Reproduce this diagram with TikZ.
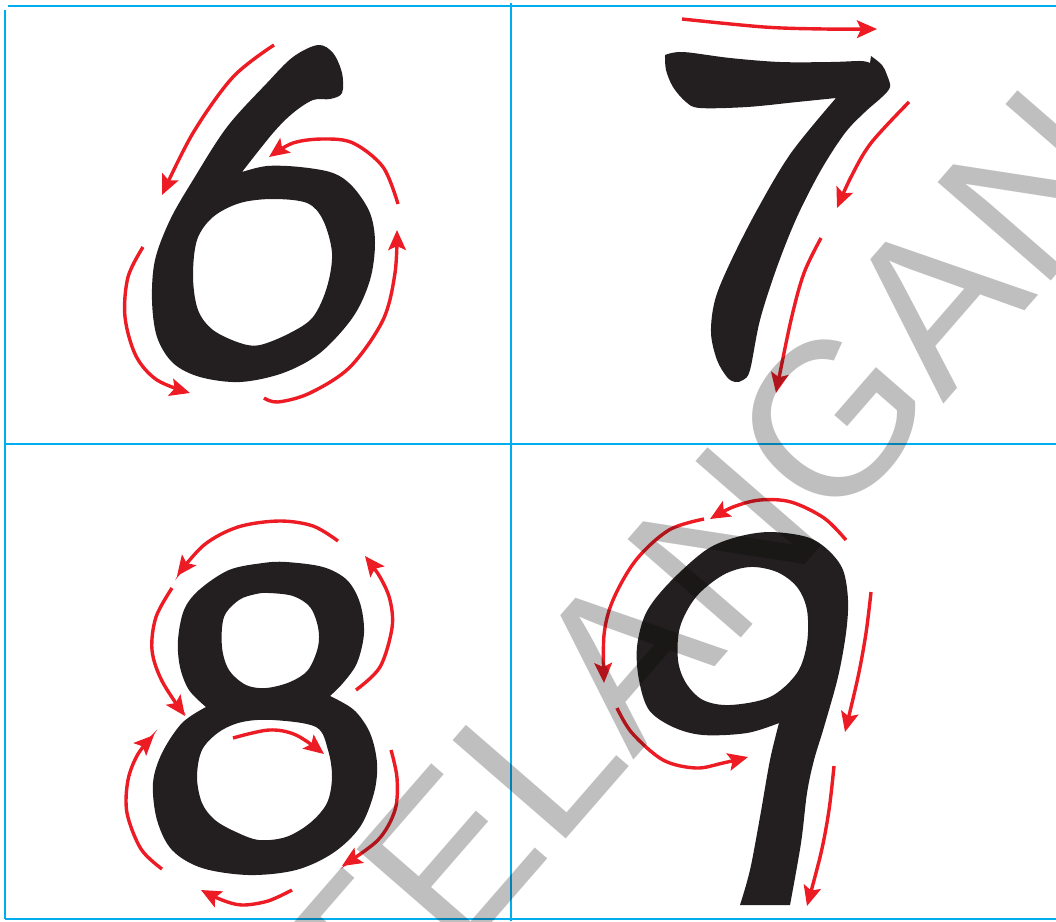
\documentclass[tikz,border=0pt]{standalone}
\usepackage{fontspec}
\newfontfamily\markfont{Liberation Sans}
\usetikzlibrary{arrows.meta}
\definecolor{digitink}{HTML}{231F20}
\definecolor{tracered}{HTML}{ED1C24}
\definecolor{gridcyan}{HTML}{00AEEF}
\begin{document}
\begin{tikzpicture}[
        x=0.025cm, y=-0.025cm,
        digit/.style={fill=digitink, even odd rule},
        trace/.style={
          draw=tracered,
          line width=0.085cm,
          -{Stealth[length=0.5cm, width=0.44cm, inset=0.1cm]}
        },
        gridline/.style={draw=gridcyan, line width=0.05cm},
        watermark/.style={
          inner sep=0pt,
          text=black,
          text opacity=0.25,
          font=\markfont\fontsize{155}{160}\selectfont
        }
      ]
      \useasboundingbox (0,0) rectangle (1056,921);
      \clip (0,0) rectangle (1056,921);

      % cells
      \draw[gridline] (8,6) -- (1056,6);
      \draw[gridline] (5,444) -- (1056,444);
      \draw[gridline] (5,919) -- (1056,919);
      \draw[gridline] (5,10) -- (5,919);
      \draw[gridline] (511,3) -- (511,921);

      % six
      \fill[digit] plot[smooth, tension=0.55] coordinates {(242,172) (267,166)
          (300,167) (333,173) (353,187) (370,213) (375,243) (370,280)
          (353,317) (320,353) (283,373) (240,382) (200,377) (173,363)
          (157,337) (152,300) (155,260) (170,220) (193,180) (227,127)
          (267,83) (293,57) (318,45) (333,53) (342,73) (342,93) (330,99)
          (313,100) (293,113) (273,133) (242,172)} -- cycle
        plot[smooth cycle, tension=0.55] coordinates {(273,199) (307,203)
          (323,220) (332,253) (327,287) (313,317) (290,333) (260,345)
          (240,343) (213,330) (198,310) (193,277) (197,240) (213,217)
          (240,203)};
      \draw[trace] plot[smooth, tension=0.55] coordinates {(274,45) (233,77)
          (193,133) (162,195)};
      \draw[trace] plot[smooth, tension=0.55] coordinates {(398,204) (383,167)
          (353,143) (323,139) (293,143) (269,157)};
      \draw[trace] plot[smooth, tension=0.55] coordinates {(143,247) (128,277)
          (125,317) (136,356) (157,380) (190,393)};
      \draw[trace] plot[smooth, tension=0.55] coordinates {(264,398) (278,402)
          (310,393) (350,367) (383,320) (395,273) (397,230)};

      % seven
      \fill[digit] plot[smooth, tension=0.55] coordinates {(665,55) (683,52)
          (730,58) (780,62) (831,62) (861,61) (870,63)} -- (871,56)
        -- plot[smooth, tension=0.55] coordinates {(871,56) (882,65) (887,75)
          (890,87) (882,97) (865,112) (845,133) (821,170) (797,217)
          (777,267) (760,320) (750,370) (743,380) (735,382) (727,377)
          (717,360) (711,333) (715,300) (730,263) (757,210) (791,153)
          (836,98)}
        -- plot[smooth, tension=0.55] coordinates {(836,98) (797,102) (747,107)
          (700,108) (686,102) (673,87) (666,70) (665,55)} -- cycle;
      \draw[trace] plot[smooth, tension=0.55] coordinates {(682,19) (764,27)
          (824,29) (877,29)};
      \draw[trace] plot[smooth, tension=0.55] coordinates {(909,102) (871,143)
          (851,177) (837,208)};
      \draw[trace] plot[smooth, tension=0.55] coordinates {(821,238) (804,273)
          (791,320) (776,393)};

      % eight
      \fill[digit] plot[smooth, tension=0.55] coordinates {(330,696) (343,683)
          (357,663) (364,633) (360,603) (347,580) (323,567) (286,562)
          (263,563) (229,570) (199,590) (184,610) (178,640) (180,667)
          (189,690) (206,707)}
        -- plot[smooth, tension=0.55] coordinates {(206,707) (182,723)
          (162,753) (153,783) (157,820) (172,850) (202,868) (249,875)
          (296,870) (333,853) (360,827) (374,793) (377,763) (370,733)
          (354,710) (330,696)} -- cycle
        plot[smooth cycle, tension=0.55] coordinates {(269,593) (293,596)
          (310,607) (318,627) (318,647) (308,670) (290,682) (266,688)
          (246,685) (229,670) (222,647) (224,617) (239,600) (256,594)}
        plot[smooth cycle, tension=0.55] coordinates {(273,720) (316,727)
          (328,750) (332,777) (327,803) (310,823) (286,837) (259,840)
          (236,832) (215,820) (202,803) (197,777) (202,750) (219,732)
          (242,722)};
      \draw[trace] plot[smooth, tension=0.55] coordinates {(338,541) (313,526)
          (279,521) (238,527) (204,545) (177,576)};
      \draw[trace] plot[smooth, tension=0.55] coordinates {(172,588) (156,617)
          (152,650) (162,681) (185,716)};
      \draw[trace] plot[smooth, tension=0.55] coordinates {(233,738) (269,730)
          (296,735) (324,754)};
      \draw[trace] plot[smooth, tension=0.55] coordinates {(391,750) (397,778)
          (395,810) (378,840) (342,866)};
      \draw[trace] plot[smooth, tension=0.55] coordinates {(292,890) (268,901)
          (242,905) (222,900) (201,890)};
      \draw[trace] plot[smooth, tension=0.55] coordinates {(162,869) (141,849)
          (127,813) (128,780) (138,754) (154,735)};
      \draw[trace] plot[smooth, tension=0.55] coordinates {(356,690) (380,667)
          (392,628) (390,600) (380,577) (365,556)};

      % nine
      \fill[digit] plot[smooth, tension=0.55] coordinates {(779,723) (747,733)
          (703,735) (673,727) (649,710) (639,680) (637,647) (646,613)
          (669,583) (706,550) (737,537) (770,532) (807,537) (828,550)
          (843,570) (848,600) (846,633) (838,677) (824,727) (814,760)
          (807,793) (801,843) (790,905)} -- (740,905)
        -- plot[smooth, tension=0.55] coordinates {(740,905) (750,870) (760,817)
          (770,760) (779,723)} -- cycle
        plot[smooth cycle, tension=0.55] coordinates {(750,567) (777,572)
          (797,587) (807,610) (807,643) (797,673) (770,697) (730,705)
          (703,700) (686,683) (678,660) (680,627) (696,597) (723,575)};
      \draw[trace] plot[smooth, tension=0.55] coordinates {(846,540) (824,518)
          (791,502) (760,500) (733,507) (710,519)};
      \draw[trace] plot[smooth, tension=0.55] coordinates {(704,519) (669,530)
          (636,560) (613,600) (604,635) (604,683)};
      \draw[trace] plot[smooth, tension=0.55] coordinates {(617,708) (632,733)
          (663,760) (696,768) (723,763) (748,757)};
      \draw[trace] plot[smooth, tension=0.55] coordinates {(871,592) (866,633)
          (858,677) (845,732)};
      \draw[trace] plot[smooth, tension=0.55] coordinates {(834,766) (829,810)
          (821,853) (807,906)};

      \node[watermark, rotate=49] (stamp) at (748,515) {TELANGANA};
    \end{tikzpicture}
\end{document}
